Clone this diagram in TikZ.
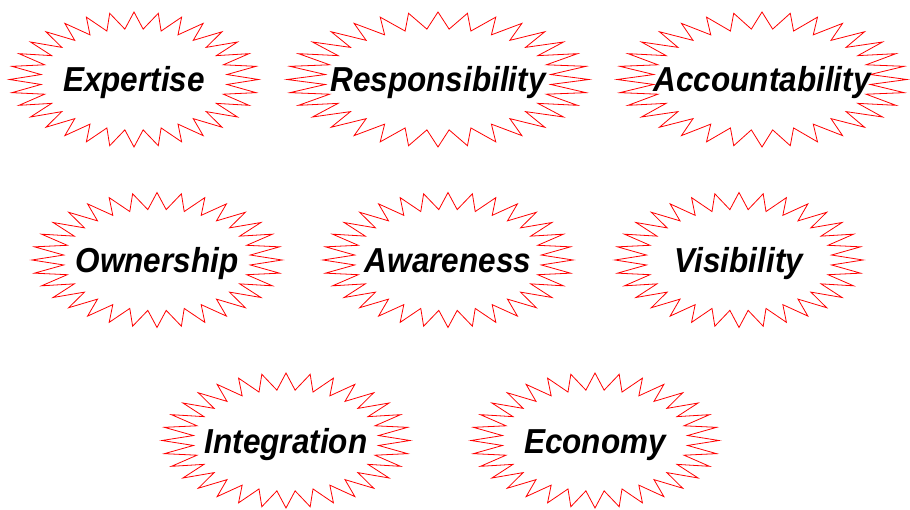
\documentclass[tikz,border=0pt]{standalone}
\usepackage{fontspec}
\setmainfont{Liberation Sans}
\newcommand{\burst}[5]{%
  \draw[burstline] plot[samples=64,domain=0:63,variable=\k]
    ({#2+#4*(0.875+0.125*cos(180*\k))*cos(90+5.625*\k)},
     {#3+67.5*(0.875+0.125*cos(180*\k))*sin(90+5.625*\k)}) -- cycle;
  \node[word] (#1) at (#2,#3+12.5) {\scalebox{1}[1.1]{#5}};
}
\begin{document}
\begin{tikzpicture}[x=1pt,y=-1pt,
  burstline/.style={draw=red,line width=0.8pt,line join=miter},
  word/.style={anchor=base,inner sep=0pt,text=black,
    font=\bfseries\itshape\fontsize{31.5}{36}\selectfont}]
\useasboundingbox[fill=white] (0,0) rectangle (910,510);
\burst{expertise}{134}{79.5}{124.5}{Expertise}
\burst{responsibility}{438}{79.5}{151}{Responsibility}
\burst{accountability}{762}{79.5}{145}{Accountability}
\burst{ownership}{157}{260}{125}{Ownership}
\burst{awareness}{448}{260}{125}{Awareness}
\burst{visibility}{739}{260}{124}{Visibility}
\burst{integration}{286}{440.5}{124}{Integration}
\burst{economy}{595}{440.5}{124}{Economy}
\end{tikzpicture}
\end{document}
